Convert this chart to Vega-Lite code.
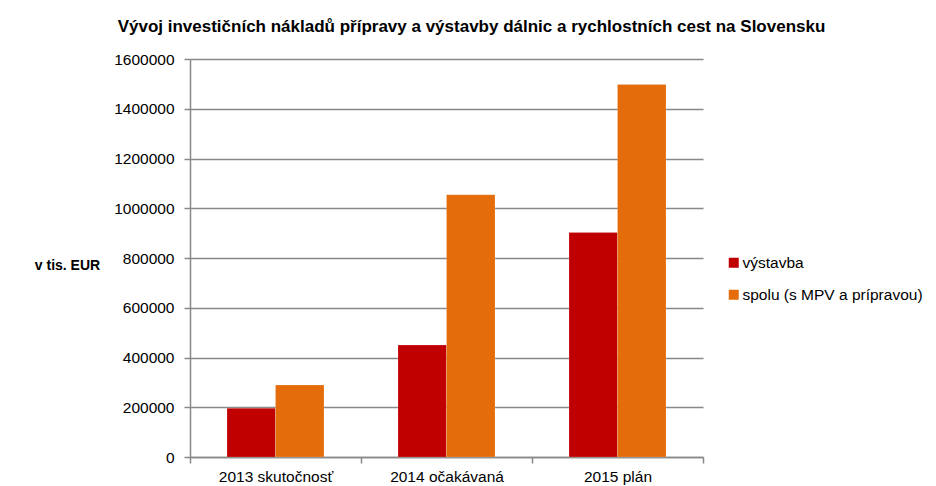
{
  "$schema": "https://vega.github.io/schema/vega-lite/v6.json",
  "width": 513,
  "height": 398,
  "autosize": {"type": "none"},
  "padding": {"left": 190, "top": 59, "right": 233, "bottom": 29},
  "background": "white",
  "title": {
    "text": "Vývoj investičních nákladů přípravy a výstavby dálnic a rychlostních cest na Slovensku",
    "font": "Liberation Sans",
    "fontSize": 17,
    "fontWeight": "bold",
    "color": "#000000",
    "anchor": "middle",
    "dx": 25,
    "offset": 16
  },
  "data": {
    "values": [
      {"rok": "2013 skutočnosť", "typ": "výstavba", "hodnota": 196000},
      {"rok": "2013 skutočnosť", "typ": "spolu (s MPV a prípravou)", "hodnota": 289000},
      {"rok": "2014 očakávaná", "typ": "výstavba", "hodnota": 450000},
      {"rok": "2014 očakávaná", "typ": "spolu (s MPV a prípravou)", "hodnota": 1054000},
      {"rok": "2015 plán", "typ": "výstavba", "hodnota": 903000},
      {"rok": "2015 plán", "typ": "spolu (s MPV a prípravou)", "hodnota": 1497000}
    ]
  },
  "mark": {"type": "bar", "stroke": "white", "strokeOpacity": 0.35, "strokeWidth": 0.5},
  "encoding": {
    "x": {
      "field": "rok",
      "type": "nominal",
      "sort": null,
      "scale": {"paddingInner": 0, "paddingOuter": 0},
      "axis": {
        "title": null,
        "labelAngle": 0,
        "labelFont": "Liberation Sans",
        "labelFontSize": 15.5,
        "labelColor": "#000000",
        "labelPadding": 6,
        "domainColor": "#888888",
        "domainWidth": 1.5,
        "tickColor": "#888888",
        "tickWidth": 1.5,
        "tickSize": 6,
        "tickBand": "extent",
        "grid": false
      }
    },
    "xOffset": {
      "field": "typ",
      "type": "nominal",
      "sort": ["výstavba", "spolu (s MPV a prípravou)"],
      "scale": {"paddingInner": 0, "paddingOuter": 0.763}
    },
    "y": {
      "field": "hodnota",
      "type": "quantitative",
      "scale": {"domain": [0, 1600000], "nice": false},
      "axis": {
        "title": "v tis. EUR",
        "titleAngle": 0,
        "titleFont": "Liberation Sans",
        "titleFontSize": 14,
        "titleFontWeight": "bold",
        "titleColor": "#000000",
        "titleX": -123,
        "titleY": 206,
        "titleAlign": "center",
        "titleBaseline": "middle",
        "values": [0, 200000, 400000, 600000, 800000, 1000000, 1200000, 1400000, 1600000],
        "format": "d",
        "labelFont": "Liberation Sans",
        "labelFontSize": 15.5,
        "labelColor": "#000000",
        "labelPadding": 10,
        "domainColor": "#888888",
        "domainWidth": 1.5,
        "tickColor": "#888888",
        "tickWidth": 1.5,
        "tickSize": 6,
        "grid": true,
        "gridColor": "#888888",
        "gridWidth": 1.5
      }
    },
    "color": {
      "field": "typ",
      "type": "nominal",
      "sort": ["výstavba", "spolu (s MPV a prípravou)"],
      "scale": {"domain": ["výstavba", "spolu (s MPV a prípravou)"], "range": ["#C00000", "#E46C0A"]},
      "legend": {
        "title": null,
        "orient": "none",
        "legendX": 536,
        "legendY": 196,
        "symbolType": "square",
        "symbolSize": 100,
        "symbolStrokeWidth": 0,
        "labelFont": "Liberation Sans",
        "labelFontSize": 15.5,
        "labelLimit": 400,
        "labelColor": "#000000",
        "labelOffset": 1,
        "rowPadding": 15
      }
    }
  },
  "config": {"view": {"stroke": null}}
}
